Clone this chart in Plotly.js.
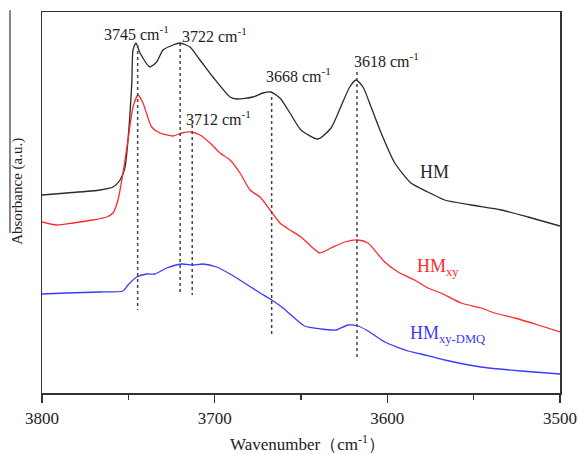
<!DOCTYPE html>
<html>
<head>
<meta charset="utf-8">
<script src="https://cdn.plot.ly/plotly-3.0.1.min.js"></script>
<style>html,body{margin:0;padding:0;background:#fff;}#chart{width:578px;height:454px;}</style>
</head>
<body>
<div id="chart"></div>
<script>
// Wavenumber (cm-1) and absorbance (a.u., arbitrary offset units)
var hmX = [3800,3785.7,3766.4,3758.9,3754.8,3751.9,3750.2,3748.0,3747.3,3745.6,3743.2,3737.5,3733.6,3729.9,3724.1,3720.1,3714.3,3708.5,3701.0,3691.1,3687.2,3677.8,3672.0,3667.5,3662.2,3656.4,3650.0,3640.2,3632.6,3627.0,3621.8,3618.1,3614.1,3609.4,3603.6,3595.7,3586.3,3576.5,3566.8,3551.5,3534.1,3518.5,3500];
var hmY = [1.98,2.00,2.03,2.06,2.13,2.26,2.53,3.10,3.43,3.50,3.40,3.26,3.31,3.43,3.48,3.50,3.46,3.33,3.16,2.96,2.94,2.96,3.00,3.01,2.95,2.80,2.63,2.54,2.65,2.86,3.06,3.13,3.06,2.86,2.60,2.30,2.10,2.01,1.93,1.88,1.83,1.76,1.67];

var hmxyX = [3800,3791.5,3782.0,3770.5,3762.5,3758.9,3756.0,3753.1,3750.2,3747.3,3744.4,3741.5,3736.5,3731.7,3724.1,3719.1,3713.3,3708.5,3702.7,3696.9,3691.1,3685.3,3679.5,3673.7,3667.9,3662.2,3656.4,3650.0,3639.2,3632.6,3624.7,3617.0,3611.2,3601.5,3593.8,3584.2,3576.5,3568.9,3557.3,3545.8,3537.8,3526.2,3512.7,3500];
var hmxyY = [1.71,1.68,1.70,1.73,1.76,1.80,1.93,2.20,2.53,2.86,2.98,2.90,2.66,2.60,2.57,2.60,2.61,2.58,2.50,2.40,2.33,2.20,2.03,1.96,1.83,1.70,1.63,1.56,1.40,1.45,1.51,1.53,1.50,1.31,1.21,1.13,1.05,1.00,0.90,0.85,0.80,0.75,0.68,0.61];

var dmqX = [3800,3785.7,3766.4,3753.1,3750.2,3745.2,3739.4,3734.6,3727.8,3719.1,3712.5,3706.8,3698.8,3691.1,3683.6,3673.7,3667.0,3660.4,3656.4,3647.9,3638.4,3629.7,3622.8,3617.0,3611.2,3601.5,3588.0,3580.5,3566.8,3545.8,3522.6,3500];
var dmqY = [0.99,1.00,1.01,1.02,1.08,1.16,1.19,1.19,1.25,1.29,1.28,1.29,1.26,1.19,1.11,1.00,0.93,0.85,0.79,0.67,0.64,0.63,0.68,0.67,0.62,0.51,0.42,0.39,0.33,0.26,0.22,0.19];

// Peak markers (labels as printed, dotted-line positions as drawn)
var peakLabels = ['3745', '3722', '3712', '3668', '3618'];
var peakLinePos = [3744.6, 3720, 3713, 3667, 3617.6];
var peakTop = [3.48, 3.50, 2.68, 2.96, 3.21];
var peakBottom = [0.83, 1.00, 0.98, 0.58, 0.36];
var peakLabelX = [3765.5, 3719.8, 3717.5, 3671.2, 3620.5];
var peakLabelY = [3.60, 3.58, 2.75, 3.18, 3.33];

// Series labels
var seriesNames = ['HM', 'HM<sub>xy</sub>', 'HM<sub>xy-DMQ</sub>'];
var seriesLabelX = [3582.2, 3584.0, 3588.0];
var seriesLabelY = [2.21, 1.26, 0.59];
var seriesColors = ['#2a2a2a', '#ff2a2a', '#3a3aff'];

var font = 'Liberation Serif, Times New Roman, serif';

var traces = [
  {x: hmX, y: hmY, mode: 'lines', line: {color: seriesColors[0], width: 1.3, shape: 'spline', smoothing: 0.6}},
  {x: hmxyX, y: hmxyY, mode: 'lines', line: {color: seriesColors[1], width: 1.3, shape: 'spline', smoothing: 0.6}},
  {x: dmqX, y: dmqY, mode: 'lines', line: {color: seriesColors[2], width: 1.3, shape: 'spline', smoothing: 0.6}}
];
for (var i = 0; i < peakLinePos.length; i++) {
  traces.push({x: [peakLinePos[i], peakLinePos[i]], y: [peakTop[i], peakBottom[i]], mode: 'lines',
    line: {color: '#444', width: 1.5, dash: 'dot'}});
}

var annotations = [];
for (var i = 0; i < peakLabels.length; i++) {
  annotations.push({x: peakLabelX[i], y: peakLabelY[i], xref: 'x', yref: 'y', xanchor: 'left', yanchor: 'middle',
    text: peakLabels[i] + ' cm<sup>-1</sup>', showarrow: false, font: {family: font, size: 16, color: '#222'}});
}
for (var j = 0; j < seriesNames.length; j++) {
  annotations.push({x: seriesLabelX[j], y: seriesLabelY[j], xref: 'x', yref: 'y', xanchor: 'left', yanchor: 'middle',
    text: seriesNames[j], showarrow: false, font: {family: font, size: 18, color: seriesColors[j]}});
}
annotations.push({x: 0.5116, y: -0.131, xref: 'paper', yref: 'paper', xanchor: 'center', yanchor: 'middle',
  text: 'Wavenumber（cm<sup>-1</sup>）', showarrow: false, font: {family: font, size: 17, color: '#222'}});
annotations.push({x: -0.0463, y: 0.528, xref: 'paper', yref: 'paper', xanchor: 'center', yanchor: 'middle',
  text: 'Absorbance (a.u.)', textangle: -90, showarrow: false, font: {family: font, size: 15, color: '#222'}});

var layout = {
  width: 578, height: 454,
  margin: {l: 42, r: 18, t: 12, b: 61},
  showlegend: false,
  paper_bgcolor: '#fff', plot_bgcolor: '#fff',
  xaxis: {
    range: [3800, 3500], tickvals: [3800, 3700, 3600, 3500], ticktext: ['3800', '3700', '3600', '3500'],
    ticks: 'outside', ticklen: 8, tickwidth: 1.5, tickcolor: '#333', ticklabelstandoff: 1,
    minor: {tickvals: [3750, 3650, 3550], ticks: 'outside', ticklen: 5, tickwidth: 1.5, tickcolor: '#333'},
    showgrid: false, zeroline: false, showline: true, linecolor: '#333', linewidth: 1.5, mirror: true,
    tickfont: {family: font, size: 17, color: '#222'}
  },
  yaxis: {
    range: [0, 3.81], showticklabels: false, ticks: '', showgrid: false, zeroline: false,
    showline: true, linecolor: '#333', linewidth: 1.5, mirror: true
  },
  annotations: annotations,
  shapes: [{type: 'line', xref: 'paper', yref: 'paper', x0: -0.0618, x1: -0.0618, y0: 0.42, y1: 1.005,
    line: {color: '#111', width: 1}}]
};

Plotly.newPlot('chart', traces, layout, {displayModeBar: false, staticPlot: true});
</script>
</body>
</html>
